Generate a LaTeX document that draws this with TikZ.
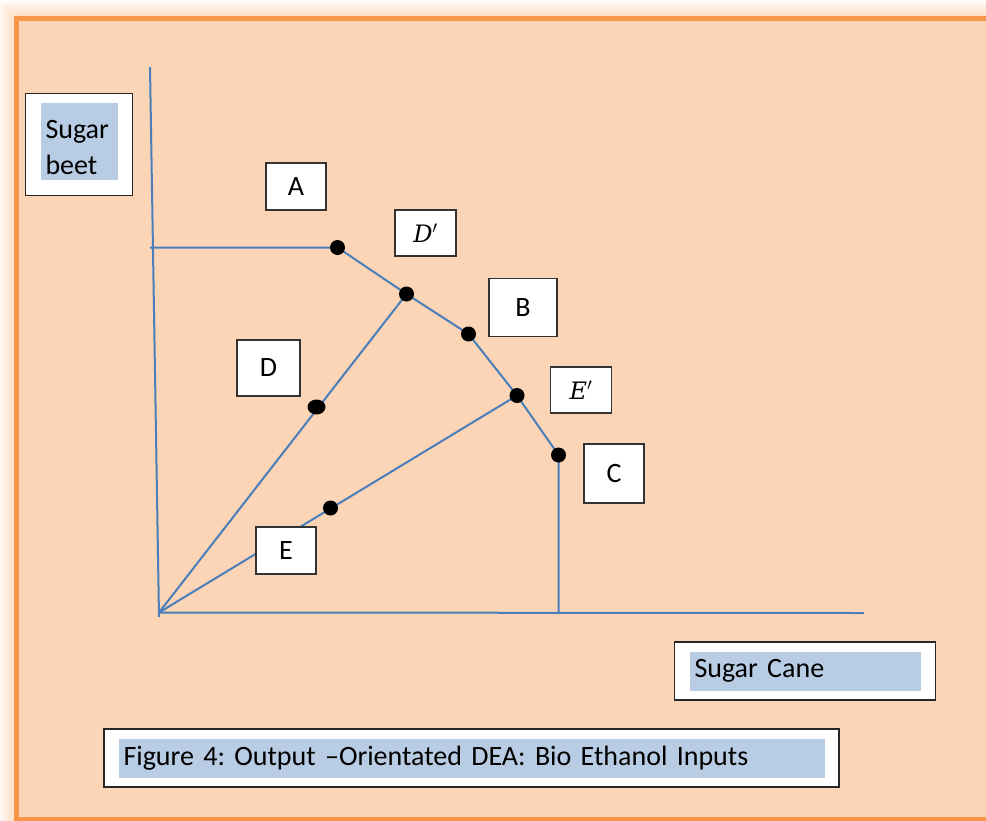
\documentclass[tikz,border=0pt]{standalone}
\usepackage{fontspec}
\setmainfont{Carlito}[WordSpace=0.85]
\newfontfamily\primefont{DejaVu Serif}
\usepackage{tikz}
\usetikzlibrary{shapes.geometric,positioning}
\definecolor{peach}{RGB}{251,213,181}
\definecolor{frameorange}{RGB}{247,150,70}
\definecolor{tagblue}{RGB}{184,204,228}
\definecolor{curveblue}{RGB}{74,126,187}
\newcommand{\lblfont}{\fontsize{28}{34}\selectfont}
\newcommand{\primed}[1]{{\primefont\fontsize{24}{28}\selectfont\itshape #1$'$}}
\frenchspacing

\begin{document}
\begin{tikzpicture}[x=1pt,y=-1pt]

\tikzset{
	lbl/.style={
		draw=black!80,
		line width=1.3pt,
		rectangle,
		fill=white,
		minimum width=60pt,
		minimum height=47pt,
		inner sep=0pt,
		text centered,
		font=\lblfont},
	frm/.style={
		draw=black!85,
		line width=1.3pt,
		rectangle,
		fill=white,
		inner sep=0pt},
	tag/.style={
		fill=tagblue,
		rectangle,
		inner sep=5pt,
		align=left,
		font=\lblfont},
	curve/.style={
		draw=curveblue,
		line width=2pt},
	dot/.style={
		circle,
		fill=black,
		minimum size=15pt,
		inner sep=0pt}
}

\clip (0,0) rectangle (986,820);

% page frame with glow
\foreach \w in {6,10,...,34}
   \draw[frameorange!60, line width=\w pt, opacity=0.08] (16,18) rectangle (1010,819);
\draw[fill=peach, draw=frameorange, line width=5pt] (16,18) rectangle (1010,819);

% axes and frontier
\coordinate (ytop) at (150,67);
\coordinate (ybase) at (159,617);
\coordinate (o) at (159,612.5);
\coordinate (xend) at (864,613);
\coordinate (abar) at (150,247.5);
\coordinate (a) at (337.5,247.5);
\coordinate (dp) at (406.5,294);
\coordinate (b) at (468.5,334);
\coordinate (ep) at (517,395.5);
\coordinate (c) at (558.5,455);
\coordinate (cbase) at (558.5,613);
\coordinate (d) at (316.5,407);
\coordinate (e) at (330.5,508);

\draw[curve] (ytop) -- (ybase);
\draw[curve] (o) -- (xend);
\draw[curve] (abar) -- (a) -- (dp) -- (b) -- (ep) -- (c) -- (cbase);
\draw[curve] (o) -- (dp);
\draw[curve] (o) -- (ep);

\foreach \p in {a,dp,b,ep,c,e}
   \node[dot] (\p dot) at (\p) {};
\node[dot,ellipse,minimum width=18pt,minimum height=15pt] (ddot) at (d) {};

% point labels
\node[lbl] (la) at (296,186.5) {A};
\node[lbl,minimum width=61pt,minimum height=46pt] (ldp) at (425.5,233) {\primed{D}};
\node[lbl,minimum width=68pt,minimum height=58pt] (lb) at (523,307.5) {B};
\node[lbl,minimum width=63pt,minimum height=56pt,line width=2.2pt] (ld) at (268.5,368) {D};
\node[lbl,minimum width=61pt,minimum height=46pt] (lep) at (581,390) {\primed{E}};
\node[lbl,minimum height=59pt] (lc) at (614,473.5) {C};
\node[lbl] (le) at (286,550.5) {E};

% axis titles and caption
\node[frm,minimum width=107pt,minimum height=101.5pt] (beetfrm) at (79,144.5) {};
\node[tag,text width=67pt,minimum height=76pt,yshift=3pt] (beet) at (beetfrm.center) {\rule{0pt}{31pt}Sugar\\[2pt]beet};

\node[frm,minimum width=261pt,minimum height=58pt] (canefrm) at (805,671) {};
\node[tag,text width=221pt,minimum height=39pt] (cane) at (canefrm.center) {Sugar Cane};

\node[frm,minimum width=735pt,minimum height=58pt] (capfrm) at (471.5,758) {};
\node[tag,text width=696pt,minimum height=39pt] (cap) at (capfrm.center) {Figure 4: Output –Orientated DEA: Bio Ethanol Inputs};

\end{tikzpicture}
\end{document}
